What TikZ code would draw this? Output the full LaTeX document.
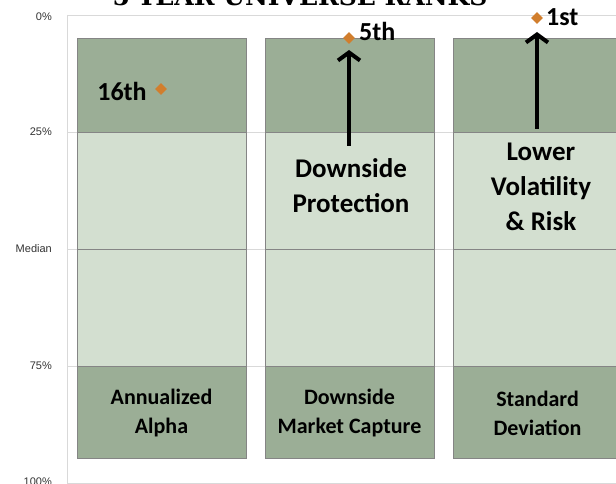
\documentclass[tikz,border=0pt]{standalone}
\usepackage{fontspec}
\setmainfont{Carlito}
\newfontfamily\axisfont{Liberation Sans}
\newfontfamily\titlefont{DejaVu Serif}
\usetikzlibrary{shapes.geometric,arrows.meta}

\newlength{\du}
\setlength{\du}{1pt}

\definecolor{bandcolor}{rgb}{0.608, 0.682, 0.588}
\definecolor{midcolor}{rgb}{0.827, 0.875, 0.816}
\definecolor{gridcolor}{rgb}{0.850, 0.850, 0.850}
\definecolor{edgecolor}{rgb}{0.520, 0.520, 0.520}
\definecolor{rankcolor}{rgb}{0.820, 0.494, 0.176}

\tikzset{
  band/.style={fill=bandcolor, draw=edgecolor, line width=0.8\du},
  midband/.style={fill=midcolor, draw=edgecolor, line width=0.8\du},
  gridline/.style={draw=gridcolor, line width=0.8\du},
  rankmark/.style={diamond, fill=rankcolor, inner sep=0pt, minimum width=12\du, minimum height=12\du},
  ranktext/.style={font=\bfseries\fontsize{26}{30}\selectfont, inner sep=0pt},
  pointer/.style={line width=4\du, -{Straight Barb[length=8pt,width=22pt]}},
  callout/.style={font=\bfseries\fontsize{27}{35}\selectfont, align=center},
  metric/.style={font=\bfseries\fontsize{22}{29}\selectfont, align=center},
  axistext/.style={font=\axisfont\fontsize{11}{12}\selectfont, text=black!80, anchor=east, inner sep=0pt}
}

\begin{document}
\begin{tikzpicture}
\pgftransformxscale{1.000000}
\pgftransformyscale{-1.000000}
\useasboundingbox (0\du,0\du) rectangle (616\du,484\du);
\clip (0\du,0\du) rectangle (616\du,484\du);
% title, cut at the top
\node[font=\titlefont\bfseries\fontsize{25}{28}\selectfont, anchor=base] (title) at (300\du,6\du){5-YEAR UNIVERSE RANKS};
% plot frame and grid
\draw[gridline] (67\du,15\du) -- (620\du,15\du);
\draw[gridline] (67\du,132.5\du) -- (620\du,132.5\du);
\draw[gridline] (67\du,249.5\du) -- (620\du,249.5\du);
\draw[gridline] (67\du,366\du) -- (620\du,366\du);
\draw[gridline] (67\du,483\du) -- (620\du,483\du);
\draw[gridline] (67\du,15\du) -- (67\du,483\du);
% axis labels
\node[axistext] (p0) at (52\du,17\du){0\%};
\node[axistext] (p25) at (52\du,132\du){25\%};
\node[axistext] (p50) at (52\du,249\du){Median};
\node[axistext] (p75) at (52\du,366\du){75\%};
\node[axistext] (p100) at (52\du,482\du){100\%};
% column 1: annualized alpha
\path[band] (77\du,38\du) rectangle (246\du,132.5\du);
\path[midband] (77\du,132.5\du) rectangle (246\du,249.5\du);
\path[midband] (77\du,249.5\du) rectangle (246\du,366\du);
\path[band] (77\du,366\du) rectangle (246\du,458\du);
\node[metric] (alpha) at (161.5\du,413\du){Annualized\\Alpha};
\node[ranktext] (alpharank) at (122\du,91\du){16th};
\node[rankmark] (alphamark) at (161\du,89\du){};
% column 2: downside market capture
\path[band] (265\du,38\du) rectangle (434\du,132.5\du);
\path[midband] (265\du,132.5\du) rectangle (434\du,249.5\du);
\path[midband] (265\du,249.5\du) rectangle (434\du,366\du);
\path[band] (265\du,366\du) rectangle (434\du,458\du);
\node[metric] (capture) at (349.5\du,413\du){Downside\\Market Capture};
\node[callout] (protection) at (351\du,186\du){Downside\\Protection};
\node[rankmark] (capturemark) at (349\du,38\du){};
\node[ranktext, anchor=west] (capturerank) at (359\du,31\du){5th};
\coordinate (capturetail) at (349\du,146\du);
\coordinate (capturetip) at (349\du,50\du);
\draw[pointer] (capturetail) -- (capturetip);
% column 3: standard deviation
\path[band] (453\du,38\du) rectangle (622\du,132.5\du);
\path[midband] (453\du,132.5\du) rectangle (622\du,249.5\du);
\path[midband] (453\du,249.5\du) rectangle (622\du,366\du);
\path[band] (453\du,366\du) rectangle (622\du,458\du);
\node[metric] (deviation) at (537.5\du,413\du){Standard\\Deviation};
\node[callout] (volatility) at (541\du,187\du){Lower\\Volatility\\\& Risk};
\node[rankmark] (deviationmark) at (537\du,18\du){};
\node[ranktext, anchor=west] (deviationrank) at (546\du,17\du){1st};
\coordinate (deviationtail) at (537\du,129\du);
\coordinate (deviationtip) at (537\du,32\du);
\draw[pointer] (deviationtail) -- (deviationtip);
\end{tikzpicture}
\end{document}
